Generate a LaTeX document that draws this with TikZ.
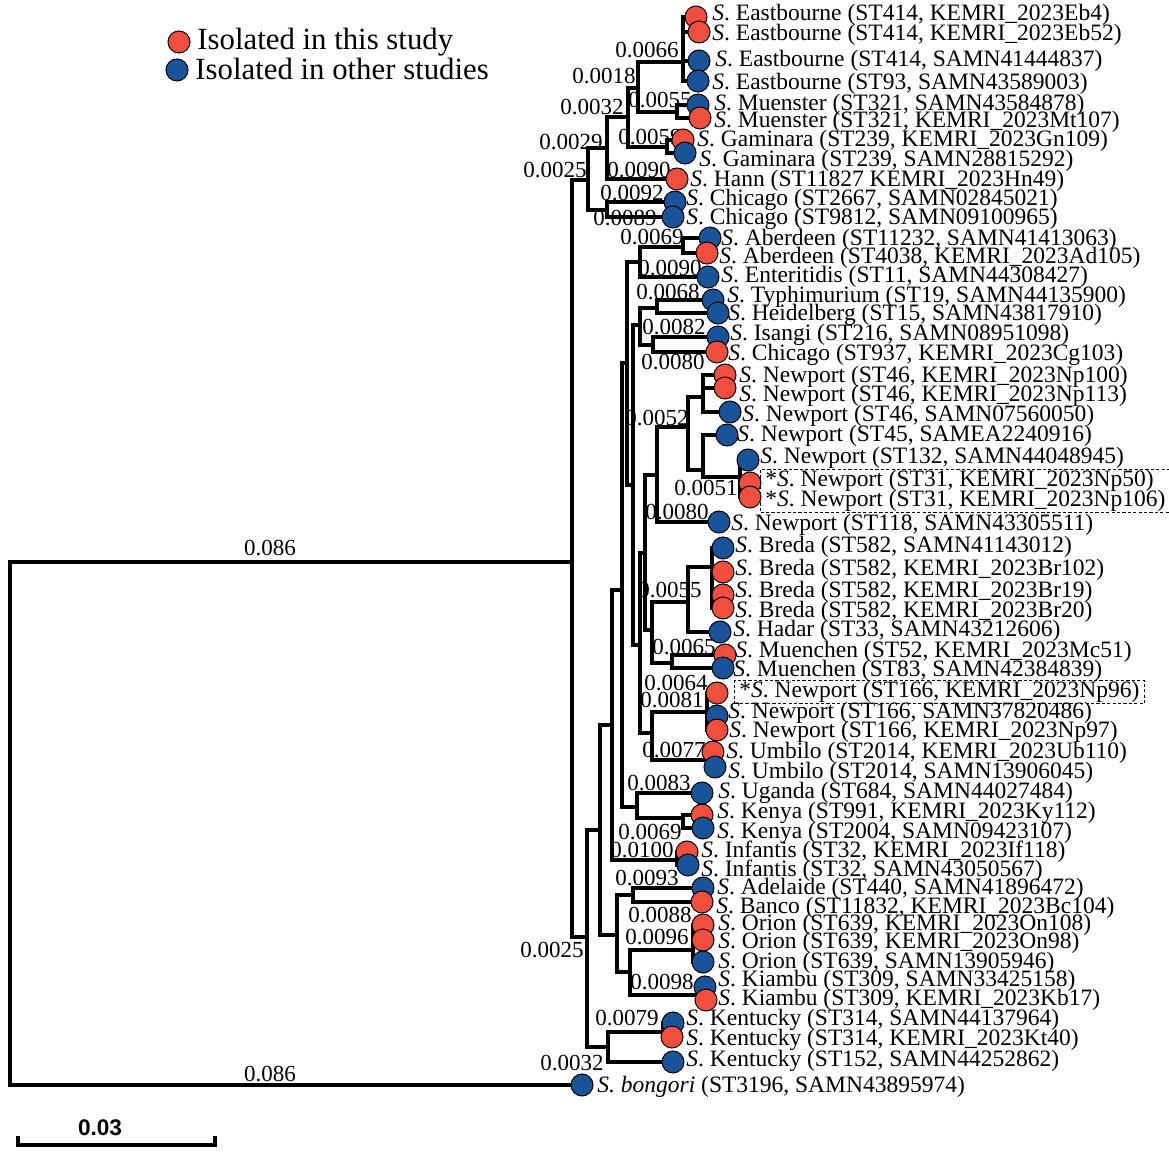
\documentclass[tikz,border=0pt]{standalone}
\usepackage{fontspec}
\setmainfont{Liberation Serif}
\newfontfamily\barfont{Liberation Sans}
\usetikzlibrary{fit,backgrounds}
\definecolor{sred}{RGB}{241,78,62}
\definecolor{sblue}{RGB}{25,84,154}
\newcommand{\Sal}{\textit{S}.\ }

\begin{document}
\begin{tikzpicture}[x=0.5pt,y=-0.5pt,
    branch/.style={line width=1.7pt},
    leafdot/.style={circle,draw=black,line width=0.5pt,minimum size=11pt,inner sep=0pt},
    leaftxt/.style={anchor=west,inner sep=0pt,font=\fontsize{11.75}{11.75}\selectfont},
    blen/.style={inner sep=0pt,font=\fontsize{11.5}{11.5}\selectfont},
    isobox/.style={draw,dash pattern=on 1.6pt off 1.1pt,line width=0.6pt,inner xsep=2.2pt,inner ysep=0.4pt}]
\useasboundingbox (0,0) rectangle (1169,1154);

% legend
\node[leafdot,fill=sred] (keyred) at (179,42) {};
\node[anchor=base west,inner sep=0pt,font=\fontsize{15.4}{15.4}\selectfont] (keyredt) at (197,50) {Isolated in this study};
\node[leafdot,fill=sblue] (keyblue) at (177,70) {};
\node[anchor=base west,inner sep=0pt,font=\fontsize{15.4}{15.4}\selectfont] (keybluet) at (195,80) {Isolated in other studies};

% internal nodes
\foreach \lname/\x/\y in {R/10/800, A/572/562, T/588/180, N29/607/148, N32/628/117,
    N18/638/88, Eb/683/62, Mu/677/112, Gam/667/147, Chi/607/210,
    B/587/937, Ken/608/1047, K314/663/1032, N600/600/830, N617/617/935,
    AB/633/895, OK/630/972, Or/693/950, Kb/697/995, N612/612/725,
    Inf/677/860, N622/622/590, UK/637/807, Kny/683/818, N627/627/363,
    AE/640/262, Abd/683/247, N633/633/485, TI/640/325, TH/657/308,
    IC/653/345, N640/640/645, N645/645/553, NpA/657/475, N687/688/427,
    S46/703/397, N703/703/470, S31/740/477, N652/652/630, BH/688/602,
    Br/712/567, Mc/672/663, NU/652/733, N166/707/712, Ub/707/760}
  \coordinate (\lname) at (\x,\y);

% branch lengths
\foreach \bv/\x/\y [count=\i] in {0.0066/647/50, 0.0018/604/76, 0.0032/592/107,
    0.0055/660/100, 0.0029/571/142, 0.0059/650/137, 0.0025/555/170,
    0.0090/639/170, 0.0092/632/193, 0.0089/625/218, 0.0069/652/237,
    0.0090/670/268, 0.0068/668/292, 0.0082/674/327, 0.0080/673/362,
    0.0052/657/418, 0.0051/706/488, 0.0080/677/512, 0.0055/670/590,
    0.0065/684/647, 0.0064/676/683, 0.0081/672/700, 0.0077/674/750,
    0.0083/659/783, 0.0069/650/832, 0.0100/642/850, 0.0093/647/878,
    0.0088/660/915, 0.0096/657/937, 0.0025/552/950, 0.0098/662/982,
    0.0079/627/1018, 0.0032/572/1063, 0.086/270/548, 0.086/270/1074}
  \node[blen] (bl\i) at (\x,\y) {\bv};

% tips
\foreach \lname/\cx/\cy/\tx/\ty/\col/\txt in {
    L1/696/17/712/15/sred/{\Sal Eastbourne (ST414, KEMRI\_2023Eb4)},
    L2/699/32/712/35/sred/{\Sal Eastbourne (ST414, KEMRI\_2023Eb52)},
    L3/699/61/715/61/sblue/{\Sal Eastbourne (ST414, SAMN41444837)},
    L4/698/81/712/84/sblue/{\Sal Eastbourne (ST93, SAMN43589003)},
    L5/698/105/714/105/sblue/{\Sal Muenster (ST321, SAMN43584878)},
    L6/700/118/714/122/sred/{\Sal Muenster (ST321, KEMRI\_2023Mt107)},
    L7/683/140/697/141/sred/{\Sal Gaminara (ST239, KEMRI\_2023Gn109)},
    L8/685/153/699/161/sblue/{\Sal Gaminara (ST239, SAMN28815292)},
    L9/677/179/690/181/sred/{\Sal Hann (ST11827 KEMRI\_2023Hn49)},
    L10/675/202/686/200/sblue/{\Sal Chicago (ST2667, SAMN02845021)},
    L11/673/217/686/219/sblue/{\Sal Chicago (ST9812, SAMN09100965)},
    L12/710/238/721/240/sblue/{\Sal Aberdeen (ST11232, SAMN41413063)},
    L13/707/253/719/258/sred/{\Sal Aberdeen (ST4038, KEMRI\_2023Ad105)},
    L14/708/277/721/277/sblue/{\Sal Enteritidis (ST11, SAMN44308427)},
    L15/713/300/727/297/sblue/{\Sal Typhimurium (ST19, SAMN44135900)},
    L16/718/313/728/315/sblue/{\Sal Heidelberg (ST15, SAMN43817910)},
    L17/718/337/730/335/sblue/{\Sal Isangi (ST216, SAMN08951098)},
    L18/717/352/728/355/sred/{\Sal Chicago (ST937, KEMRI\_2023Cg103)},
    L19/725/375/739/377/sred/{\Sal Newport (ST46, KEMRI\_2023Np100)},
    L20/725/388/739/396/sred/{\Sal Newport (ST46, KEMRI\_2023Np113)},
    L21/730/412/742/416/sblue/{\Sal Newport (ST46, SAMN07560050)},
    L22/727/435/737/436/sblue/{\Sal Newport (ST45, SAMEA2240916)},
    L23/748/460/760/458/sblue/{\Sal Newport (ST132, SAMN44048945)},
    L24/750/483/765/481/sred/{*\Sal Newport (ST31, KEMRI\_2023Np50)},
    L25/750/497/765/501/sred/{*\Sal Newport (ST31, KEMRI\_2023Np106)},
    L26/719/522/731/525/sblue/{\Sal Newport (ST118, SAMN43305511)},
    L27/723/548/735/547/sblue/{\Sal Breda (ST582, SAMN41143012)},
    L28/723/572/735/570/sred/{\Sal Breda (ST582, KEMRI\_2023Br102)},
    L29/723/595/735/592/sred/{\Sal Breda (ST582, KEMRI\_2023Br19)},
    L30/723/608/735/612/sred/{\Sal Breda (ST582, KEMRI\_2023Br20)},
    L31/720/632/733/631/sblue/{\Sal Hadar (ST33, SAMN43212606)},
    L32/725/655/735/652/sred/{\Sal Muenchen (ST52, KEMRI\_2023Mc51)},
    L33/723/668/733/671/sblue/{\Sal Muenchen (ST83, SAMN42384839)},
    L34/717/693/739/692/sred/{*\Sal Newport (ST166, KEMRI\_2023Np96)},
    L35/717/716/728/713/sblue/{\Sal Newport (ST166, SAMN37820486)},
    L36/717/730/729/732/sred/{\Sal Newport (ST166, KEMRI\_2023Np97)},
    L37/713/752/726/753/sred/{\Sal Umbilo (ST2014, KEMRI\_2023Ub110)},
    L38/715/767/728/773/sblue/{\Sal Umbilo (ST2014, SAMN13906045)},
    L39/702/793/718/793/sblue/{\Sal Uganda (ST684, SAMN44027484)},
    L40/702/815/717/813/sred/{\Sal Kenya (ST991, KEMRI\_2023Ky112)},
    L41/703/828/717/833/sblue/{\Sal Kenya (ST2004, SAMN09423107)},
    L42/687/852/701/852/sred/{\Sal Infantis (ST32, KEMRI\_2023If118)},
    L43/688/865/701/871/sblue/{\Sal Infantis (ST32, SAMN43050567)},
    L44/703/888/717/889/sblue/{\Sal Adelaide (ST440, SAMN41896472)},
    L45/702/902/716/908/sred/{\Sal Banco (ST11832, KEMRI\_2023Bc104)},
    L46/703/925/718/925/sred/{\Sal Orion (ST639, KEMRI\_2023On108)},
    L47/703/940/718/943/sred/{\Sal Orion (ST639, KEMRI\_2023On98)},
    L48/703/962/718/963/sblue/{\Sal Orion (ST639, SAMN13905946)},
    L49/705/987/718/981/sblue/{\Sal Kiambu (ST309, SAMN33425158)},
    L50/706/1000/718/1000/sred/{\Sal Kiambu (ST309, KEMRI\_2023Kb17)},
    L51/673/1023/686/1020/sblue/{\Sal Kentucky (ST314, SAMN44137964)},
    L52/672/1037/686/1040/sred/{\Sal Kentucky (ST314, KEMRI\_2023Kt40)},
    L53/673/1062/686/1061/sblue/{\Sal Kentucky (ST152, SAMN44252862)},
    L54/582/1085/597/1087/sblue/{\textit{S. bongori} (ST3196, SAMN43895974)}}
  {
  \node[leafdot,fill=\col] (\lname) at (\cx,\cy) {};
  \node[leaftxt] (\lname t) at (\tx,\ty) {\txt};
  }

% this study, new STs
\node[isobox,fit=(L24t)(L25t)] (box31) {};
\node[isobox,fit=(L34t)] (box166) {};

% scale bar
\coordinate (sb1) at (18,1136);
\coordinate (sb2) at (18,1145);
\coordinate (sb3) at (215,1145);
\coordinate (sb4) at (215,1136);
\draw[branch] (sb1) -- (sb2) -- (sb3) -- (sb4);
\node[inner sep=0pt,font=\barfont\bfseries\fontsize{11.3}{11.3}\selectfont] (sblab) at (100,1128) {0.03};

% tree
\begin{scope}[on background layer]
\foreach \up/\dn in {R/A, R/L54, A/T, A/B, T/N29, T/Chi, N29/N32, N29/L9,
    N32/N18, N32/Gam, N18/Eb, N18/Mu, Eb/L1, Eb/L2, Eb/L3, Eb/L4,
    Mu/L5, Mu/L6, Gam/L7, Gam/L8, Chi/L10, Chi/L11,
    B/N600, B/Ken, Ken/K314, Ken/L53, K314/L51, K314/L52,
    N600/N612, N600/N617, N617/AB, N617/OK, AB/L44, AB/L45,
    OK/Or, OK/Kb, Or/L46, Or/L47, Or/L48, Kb/L49, Kb/L50,
    N612/N622, N612/Inf, Inf/L42, Inf/L43, N622/N627, N622/UK,
    UK/L39, UK/Kny, Kny/L40, Kny/L41, N627/AE, N627/N633,
    AE/Abd, AE/L14, Abd/L12, Abd/L13, N633/TI, N633/N640,
    TI/TH, TI/IC, TH/L15, TH/L16, IC/L17, IC/L18,
    N640/N645, N640/NU, N645/NpA, N645/N652, NpA/N687, NpA/L26,
    N687/S46, N687/N703, S46/L19, S46/L20, S46/L21, N703/L22, N703/S31,
    S31/L23, S31/L24, S31/L25, N652/BH, N652/Mc, BH/Br, BH/L31,
    Br/L27, Br/L28, Br/L29, Br/L30, Mc/L32, Mc/L33,
    NU/N166, NU/Ub, N166/L34, N166/L35, N166/L36, Ub/L37, Ub/L38}
  \draw[branch] (\up.center) |- (\dn.center);
\end{scope}
\end{tikzpicture}
\end{document}
